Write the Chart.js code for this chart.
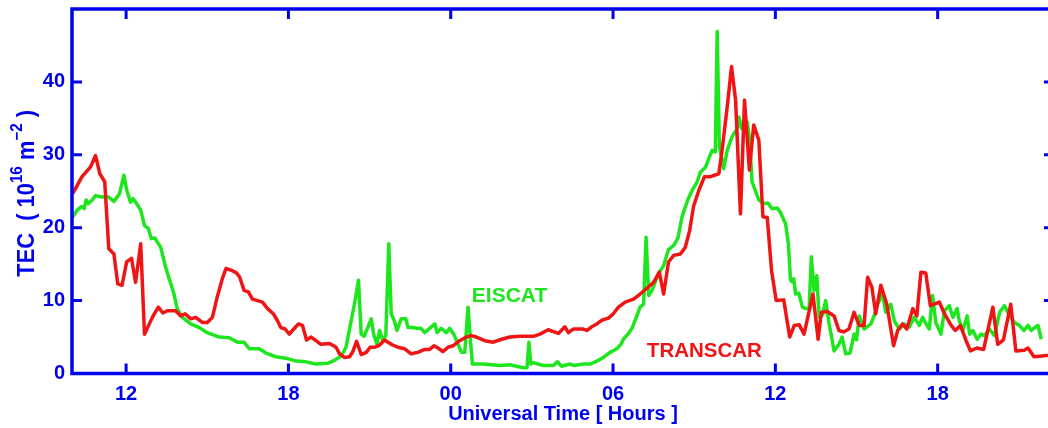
<!DOCTYPE html>
<html><head><meta charset="utf-8">
<script src="https://cdn.jsdelivr.net/npm/chart.js@4/dist/chart.umd.min.js"></script>
<style>
html,body{margin:0;padding:0;background:#fff;overflow:hidden;width:1048px;height:428px}
#wrap{position:absolute;left:0;top:0;width:1062px;height:428px}
</style>
</head><body><div id="wrap"><canvas id="c" width="1062" height="428"></canvas></div>
<script>
// ---- data (hours from 00 UT of day 1; 24+ = next day) ----
const eiscatHours = [10.03,10.19,10.35,10.45,10.52,10.6,10.75,10.87,11.11,11.36,11.55,11.76,11.92,12.02,12.16,12.25,12.37,12.54,12.68,12.82,12.93,13.06,13.28,13.46,13.61,13.77,13.89,14.08,14.39,14.7,15.0,15.44,15.81,16.12,16.36,16.55,16.92,17.17,17.54,17.91,18.28,18.65,19.02,19.45,19.7,19.95,20.13,20.26,20.44,20.59,20.69,20.8,20.93,21.06,21.15,21.27,21.37,21.49,21.6,21.71,21.8,21.92,22.01,22.17,22.34,22.42,22.6,22.73,22.9,23.04,23.22,23.41,23.5,23.65,23.84,23.96,24.11,24.27,24.4,24.52,24.64,24.73,24.8,25.2,25.82,26.19,26.43,26.68,26.82,26.89,26.96,27.05,27.42,27.79,27.94,28.1,28.41,28.55,28.9,29.15,29.4,29.64,29.89,30.14,30.29,30.4,30.55,30.7,30.88,31.0,31.13,31.22,31.32,31.44,31.68,31.87,32.05,32.25,32.4,32.55,32.76,32.92,33.11,33.23,33.42,33.54,33.66,33.78,33.85,33.93,34.09,34.22,34.4,34.59,34.65,34.75,34.96,35.05,35.14,35.26,35.39,35.57,35.72,35.88,36.07,36.19,36.38,36.48,36.56,36.62,36.68,36.75,36.87,37.0,37.12,37.25,37.33,37.43,37.53,37.62,37.74,37.86,37.98,38.17,38.35,38.47,38.6,38.76,38.91,39.0,39.1,39.28,39.53,39.65,39.78,39.96,40.08,40.27,40.4,40.58,40.77,40.95,41.13,41.32,41.44,41.57,41.69,41.81,41.93,42.12,42.25,42.43,42.56,42.72,42.8,42.93,43.09,43.18,43.3,43.46,43.6,43.73,43.91,44.1,44.29,44.47,44.66,44.84,45.02,45.19,45.34,45.46,45.59,45.71,45.83];
const eiscatTEC = [21.5,22.4,22.9,22.6,23.8,23.3,23.8,24.4,24.2,24.2,23.6,24.7,27.2,25.2,23.5,24.0,23.4,22.4,20.3,19.9,18.5,18.6,17.3,14.6,12.8,10.9,8.9,7.7,6.8,6.3,5.6,5.0,4.9,4.3,4.3,3.4,3.4,2.8,2.3,2.1,1.7,1.6,1.3,1.4,1.8,2.4,3.6,6.1,9.5,12.8,5.4,5.1,6.3,7.5,5.4,4.0,5.9,4.5,5.2,17.8,8.2,7.2,5.9,7.5,7.5,6.3,6.3,6.2,6.2,5.6,6.2,6.8,5.6,6.2,5.6,6.2,5.4,4.0,2.9,2.9,9.1,4.5,1.3,1.3,1.1,1.2,1.0,0.8,0.8,4.3,1.3,1.5,1.1,1.1,1.6,1.0,1.3,1.1,1.3,1.3,1.7,2.2,2.9,3.4,4.0,4.8,5.4,6.2,7.9,9.1,9.5,18.7,10.7,11.4,13.7,14.8,17.0,17.6,18.6,21.5,23.8,25.1,26.3,27.6,28.3,29.5,30.6,30.4,46.9,31.1,28.1,30.6,32.5,33.6,35.2,33.6,34.5,32.0,26.3,25.1,23.8,23.3,23.4,22.6,22.7,22.1,20.5,17.8,12.8,12.6,13.0,10.9,11.0,9.1,8.9,9.0,16.0,11.4,13.4,7.7,8.0,10.0,7.0,3.1,4.0,5.0,2.7,2.8,5.4,4.6,7.9,6.1,6.8,7.9,9.5,10.9,8.4,9.5,7.2,6.1,6.8,6.4,7.7,6.6,7.7,6.8,6.1,10.7,7.0,5.4,8.6,9.3,7.7,8.9,7.2,5.9,7.9,5.4,5.9,4.7,5.4,5.2,6.1,5.2,8.4,9.3,7.9,7.0,6.6,5.9,6.6,5.9,6.3,6.6,4.7];
const transcarHours = [10.03,10.37,10.68,10.87,11.03,11.21,11.36,11.55,11.69,11.85,12.02,12.2,12.35,12.54,12.68,12.97,13.19,13.36,13.52,13.83,14.02,14.18,14.39,14.57,14.82,15.0,15.19,15.37,15.54,15.69,15.93,16.08,16.2,16.36,16.52,16.67,16.86,17.04,17.23,17.44,17.6,17.72,17.88,18.03,18.15,18.37,18.52,18.67,18.84,19.02,19.2,19.52,19.67,19.76,19.89,20.07,20.26,20.38,20.52,20.69,20.88,21.02,21.2,21.37,21.55,21.8,22.05,22.29,22.54,22.78,23.04,23.22,23.38,23.53,23.71,23.9,24.08,24.33,24.58,24.77,24.95,25.26,25.57,25.88,26.19,26.56,27.05,27.3,27.6,27.98,28.22,28.35,28.53,28.9,29.03,29.21,29.4,29.58,29.83,30.01,30.2,30.45,30.76,31.0,31.25,31.5,31.71,31.87,32.05,32.24,32.49,32.67,32.83,32.98,33.17,33.38,33.6,33.91,34.03,34.22,34.38,34.53,34.71,34.86,35.04,35.2,35.39,35.54,35.7,35.86,36.03,36.31,36.53,36.7,36.88,37.06,37.39,37.58,37.7,37.92,38.17,38.35,38.52,38.72,38.91,39.1,39.28,39.41,39.57,39.71,39.9,40.12,40.37,40.52,40.7,40.86,41.08,41.23,41.38,41.56,41.73,42.06,42.25,42.5,42.65,42.84,43.05,43.21,43.45,43.7,44.04,44.22,44.43,44.7,44.89,45.2,45.34,45.56,46.13,46.4];
const transcarTEC = [24.7,27.0,28.3,29.9,27.4,26.3,17.1,16.4,12.3,12.1,15.3,15.8,12.5,17.8,5.4,7.7,9.1,8.3,8.6,8.6,7.9,8.2,7.5,7.7,7.0,7.0,7.7,10.5,12.8,14.4,14.1,13.8,13.2,11.4,11.2,10.2,10.0,9.8,8.9,8.2,7.2,6.3,6.1,5.4,5.9,6.8,6.6,4.6,5.0,4.5,4.0,4.1,3.8,3.6,2.7,2.2,2.3,3.0,4.4,2.6,2.9,3.6,3.6,3.9,4.6,4.0,3.6,3.4,2.7,2.9,3.3,3.3,3.8,3.5,3.0,3.6,3.8,4.5,5.0,5.2,5.0,4.5,4.3,4.7,5.0,5.1,5.1,5.4,6.0,5.5,6.4,5.6,6.1,6.1,5.9,6.4,6.8,7.3,7.6,8.2,9.1,9.8,10.2,10.9,11.7,12.5,13.9,10.9,15.3,16.2,16.4,17.3,19.6,23.0,25.1,27.0,27.0,27.4,30.6,36.6,42.1,37.5,21.9,37.5,27.9,34.1,32.0,21.5,21.4,14.1,10.0,10.1,5.0,6.6,6.7,5.4,10.9,4.7,8.4,8.5,7.9,5.9,5.7,6.1,8.4,6.6,6.6,13.2,11.8,8.2,12.1,9.5,3.8,5.9,6.8,6.1,8.9,7.9,13.9,13.8,9.3,9.8,8.2,6.6,5.9,6.6,4.5,3.1,3.5,3.3,9.1,4.0,4.6,9.5,3.1,3.2,3.5,2.3,2.5,2.5];
const xTickHours = [12,18,24,30,36,42];
const xTickLabels = ['12','18','00','06','12','18'];
const yTicks = [0,10,20,30,40];
const seriesNames = ['EISCAT','TRANSCAR'];
const eiscatLabelAt = [24.78, 9.81];
const transcarLabelAt = [31.25, 2.22];

const BLUE = '#0000f0', GREEN = '#1ee61e', RED = '#f01414';
const FONT = '"Liberation Sans", Arial, Helvetica, sans-serif';

const framePlugin = {
  id: 'frame',
  afterDatasetsDraw(chart) {
    const {ctx, chartArea: a, scales: {x, y}} = chart;
    ctx.save();
    ctx.strokeStyle = BLUE;
    ctx.lineWidth = 3.5;
    ctx.strokeRect(a.left, a.top, a.right - a.left, a.bottom - a.top);
    ctx.lineWidth = 3;
    ctx.beginPath();
    xTickHours.forEach(v => {
      const px = x.getPixelForValue(v);
      ctx.moveTo(px, a.bottom); ctx.lineTo(px, a.bottom - 10);
      ctx.moveTo(px, a.top); ctx.lineTo(px, a.top + 10);
    });
    yTicks.forEach(v => {
      const py = y.getPixelForValue(v);
      ctx.moveTo(a.left, py); ctx.lineTo(a.left + 10, py);
      ctx.moveTo(a.right, py); ctx.lineTo(a.right - 10, py);
    });
    ctx.stroke();

    // series annotations
    ctx.textAlign = 'left';
    ctx.textBaseline = 'alphabetic';
    ctx.font = 'bold 21px ' + FONT;
    ctx.fillStyle = GREEN;
    ctx.fillText(seriesNames[0], x.getPixelForValue(eiscatLabelAt[0]), y.getPixelForValue(eiscatLabelAt[1]));
    ctx.font = 'bold 20.5px ' + FONT;
    ctx.fillStyle = RED;
    ctx.fillText(seriesNames[1], x.getPixelForValue(transcarLabelAt[0]), y.getPixelForValue(transcarLabelAt[1]));

    // x title
    ctx.fillStyle = BLUE;
    ctx.textAlign = 'center';
    ctx.font = 'bold 20px ' + FONT;
    ctx.fillText('Universal Time [ Hours ]', (a.left + a.right) / 2, 420);

    // y title with superscripts
    const main = 'bold 23px ' + FONT, sup = 'bold 16px ' + FONT;
    const pieces = [
      {t: 'TEC  ( 10', f: main, r: 0},
      {t: '16', f: sup, r: 12},
      {t: ' m', f: main, r: 0},
      {t: '\u22122', f: sup, r: 12},
      {t: ' )', f: main, r: 0}
    ];
    let total = 0;
    pieces.forEach(p => { ctx.font = p.f; p.w = ctx.measureText(p.t).width; total += p.w; });
    ctx.translate(33.5, 193.3);
    ctx.rotate(-Math.PI / 2);
    ctx.scale(166.7 / total, 1);
    ctx.textAlign = 'left';
    let xx = -total / 2;
    pieces.forEach(p => { ctx.font = p.f; ctx.fillText(p.t, xx, -p.r); xx += p.w; });
    ctx.restore();
  }
};

new Chart(document.getElementById('c').getContext('2d'), {
  type: 'scatter',
  data: {
    datasets: [
      {label: seriesNames[0], data: eiscatHours.map((h, i) => ({x: h, y: eiscatTEC[i]})),
       showLine: true, borderColor: GREEN, backgroundColor: GREEN, borderWidth: 3.5,
       pointRadius: 0, borderJoinStyle: 'round', order: 1},
      {label: seriesNames[1], data: transcarHours.map((h, i) => ({x: h, y: transcarTEC[i]})),
       showLine: true, borderColor: RED, backgroundColor: RED, borderWidth: 3.5,
       pointRadius: 0, borderJoinStyle: 'round', order: 0}
    ]
  },
  options: {
    responsive: false,
    animation: false,
    devicePixelRatio: 1,
    events: [],
    layout: {padding: {top: 9, right: 8, left: 0, bottom: 0}},
    plugins: {legend: {display: false}, tooltip: {enabled: false}, title: {display: false}},
    scales: {
      x: {
        type: 'linear', min: 10, max: 46.3,
        grid: {display: false, drawTicks: false}, border: {display: false},
        afterBuildTicks: s => { s.ticks = xTickHours.map(v => ({value: v})); },
        afterFit: s => { s.height = 54.5; s.paddingLeft = 0; s.paddingRight = 0; },
        ticks: {autoSkip: false, maxRotation: 0, color: BLUE, padding: 9,
                font: {family: FONT, size: 20, weight: 'bold'},
                callback: (v, i) => xTickLabels[i]}
      },
      y: {
        type: 'linear', min: 0, max: 50,
        grid: {display: false, drawTicks: false}, border: {display: false},
        afterBuildTicks: s => { s.ticks = yTicks.map(v => ({value: v})); },
        afterFit: s => { s.width = 72; s.paddingTop = 0; s.paddingBottom = 0; },
        ticks: {color: BLUE, padding: 7, font: {family: FONT, size: 20, weight: 'bold'},
                callback: v => String(v)}
      }
    }
  },
  plugins: [framePlugin]
});
</script>
</body></html>
